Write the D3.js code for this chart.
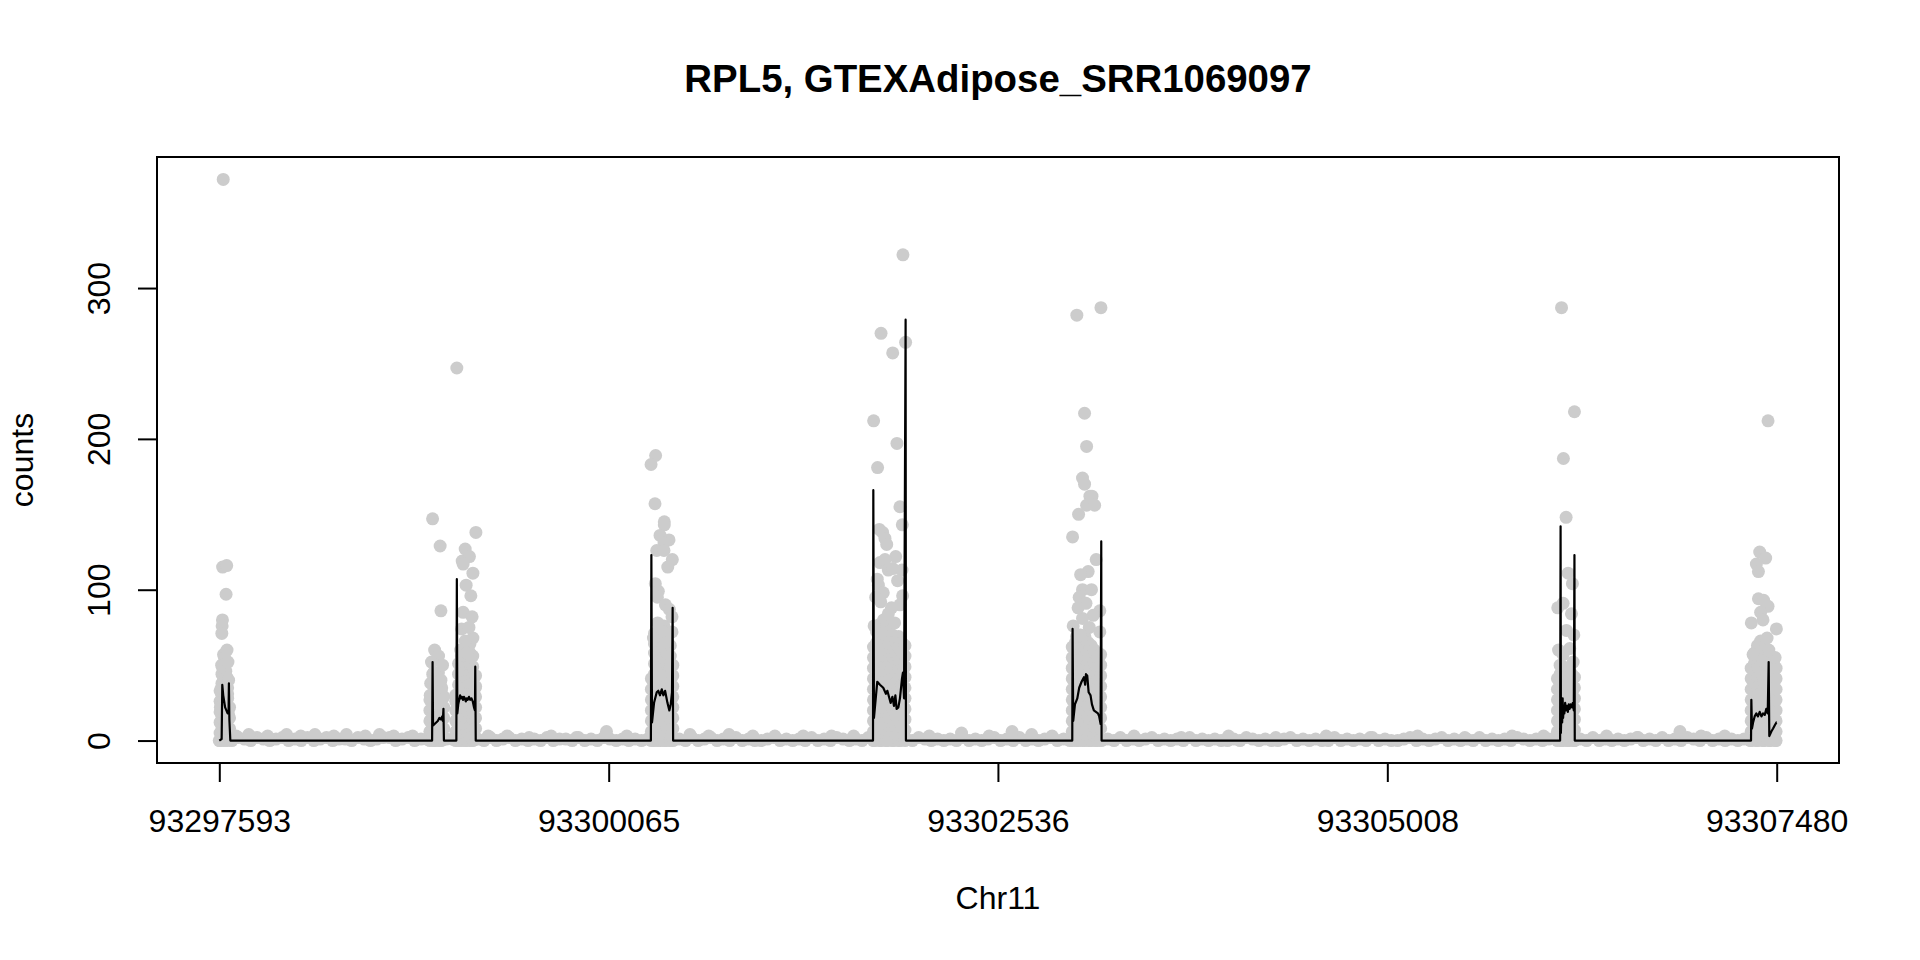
<!DOCTYPE html>
<html>
<head>
<meta charset="utf-8">
<script src="https://cdn.jsdelivr.net/npm/d3@7"></script>
<style>
  html, body { margin: 0; padding: 0; background: #ffffff; }
  svg { display: block; }
  text { font-family: "Liberation Sans", Arial, Helvetica, sans-serif; fill: #000; }
</style>
</head>
<body>
<script>
// ---------------- DATA ----------------
const chartTitle = "RPL5, GTEXAdipose_SRR1069097";
const xLabel = "Chr11";
const yLabel = "counts";
const xTickValues = [93297593, 93300065, 93302536, 93305008, 93307480];
const yTickValues = [0, 100, 200, 300];
const regionStart = 93297593;
const regionEnd = 93307480;

// background (intronic) counts, sampled every 40 bp from regionStart
const bgStep = 40;
const bgCounts = [
  0,1,0,2,1,0,2,1,0,1,
  2,0,1,0,2,0,1,2,0,1,
  1,0,2,1,0,1,2,2,0,1,
  2,0,1,1,0,0,1,1,0,0,
  0,1,0,2,0,1,2,0,1,0,
  1,0,2,0,1,1,0,2,0,1,
  0,2,1,0,1,0,1,0,1,0,
  0,0,0,1,0,2,0,1,2,0,
  1,0,2,0,1,0,0,1,2,0,
  1,0,1,0,2,0,1,0,2,1,
  0,1,0,2,0,0,0,0,0,1,
  0,2,1,0,1,0,1,0,2,0,
  1,0,1,2,0,1,0,2,0,1,
  0,1,2,0,1,0,0,0,0,0,
  0,1,0,2,0,1,0,1,2,0,
  1,0,1,0,2,0,1,0,1,0,
  0,1,0,2,1,0,1,0,0,1,
  2,0,1,0,1,0,0,2,0,1,
  0,1,0,2,0,1,0,0,1,2,
  0,1,0,1,2,0,1,0,1,0,
  2,0,1,0,1,0,2,1,0,1,
  0,1,2,0,0,0,1,0,2,0,
  1,0,1,0,1,2,0,1,0,2,
  0,1,0,2,1,0,2,0,1,0,
  1,0,1,0,0,0,0,0
];

// scattered small intronic counts above the band [position, count]
const intronBumps = [
  [93297700,3],[93297780,4],[93297900,3],[93298020,4],[93298110,3],[93298200,4],
  [93298320,3],[93298400,4],[93298520,3],[93298610,4],[93298700,3],[93298820,3],
  [93299300,3],[93299420,3],[93299560,2],[93299700,3],[93299860,2],[93300051,6],
  [93300180,3],[93300581,4],[93300700,3],[93300829,4],[93300980,3],[93301120,3],
  [93301300,3],[93301480,3],[93301620,3],[93302100,3],[93302305,5],[93302480,3],
  [93302626,6],[93302750,4],[93302880,3],[93303400,3],[93303700,2],[93304000,3],
  [93304300,2],[93304620,3],[93304900,2],[93305200,3],[93305500,2],[93305800,3],
  [93306000,3],[93306400,3],[93306600,2],[93306866,6],[93307000,3],[93307150,3]
];

// exon read counts [position, count] (scattered upper points)
const exon1Points = [
  [93297618,372],[93297614,115],[93297640,116],[93297636,97],[93297613,80],[93297611,76],
  [93297609,71],[93297620,57],[93297626,55],[93297615,48],[93297630,45],[93297640,42],
  [93297622,38],[93297606,35],[93297646,31],[93297628,28],[93297600,22],[93297650,18],
  [93297642,60],[93297608,50],[93297648,52],[93297652,40]
];
const exon2Points = [
  [93298947,147],[93298995,129],[93299000,86],[93298960,60],[93298985,56],[93298940,52],
  [93299010,50],[93298955,45],[93298975,42],[93298935,38],[93299005,35],[93298932,30],
  [93299000,40]
];
const exon3Points = [
  [93299101,247],[93299222,138],[93299154,127],[93299135,119],[93299181,122],[93299141,117],
  [93299203,111],[93299160,103],[93299190,96],[93299141,85],[93299131,74],[93299203,68],
  [93299154,66],[93299185,55],[93299125,60],[93299165,58],[93299178,75],[93299198,82],
  [93299093,30],[93299218,35]
];
const exon4Points = [
  [93300363,189],[93300334,183],[93300359,157],[93300418,145],[93300418,143],[93300391,136],
  [93300448,133],[93300416,131],[93300370,126],[93300416,126],[93300469,120],[93300440,115],
  [93300361,104],[93300380,99],[93300374,95],[93300425,90],[93300450,87],[93300467,82],
  [93300397,76],[93300416,72],[93300349,68],[93300467,72],[93300430,65]
];
const exon5Points = [
  [93301933,322],[93301794,270],[93301868,257],[93301950,264],[93301747,212],[93301895,197],
  [93301772,181],[93301914,155],[93301929,143],[93301783,140],[93301804,138],[93301819,134],
  [93301830,130],[93301887,122],[93301787,118],[93301819,120],[93301840,113],[93301868,114],
  [93301927,113],[93301899,106],[93301770,107],[93301777,103],[93301808,98],[93301931,96],
  [93301792,92],[93301914,90],[93301760,95],[93301860,88],[93301810,80],[93301840,84],
  [93301880,78],[93301750,76]
];
const exon6Points = [
  [93303037,282],[93303190,287],[93303086,217],[93303099,195],[93303073,174],[93303086,170],
  [93303120,162],[93303133,162],[93303099,156],[93303150,156],[93303048,150],[93303010,135],
  [93303109,112],[93303061,110],[93303073,100],[93303052,95],[93303095,91],[93303183,86],
  [93303141,83],[93303073,81],[93303014,76],[93303116,75],[93303183,72],[93303035,69],
  [93303060,70],[93303130,100],[93303160,120],[93303045,88]
];
const exon7Points = [
  [93306114,287],[93306196,218],[93306126,187],[93306143,148],[93306156,111],[93306183,104],
  [93306124,91],[93306177,84],[93306145,73],[93306192,70],[93306166,61],[93306124,57],
  [93306188,52],[93306090,88],[93306095,60],[93306105,50]
];
const exon8Points = [
  [93307425,212],[93307372,125],[93307410,121],[93307351,117],[93307364,112],[93307364,94],
  [93307397,93],[93307425,89],[93307378,85],[93307393,80],[93307319,78],[93307478,74],
  [93307419,68],[93307351,59],[93307330,57],[93307393,53],[93307467,49],[93307470,55],
  [93307430,60]
];

// dense lower read counts per exon: [position, [counts at that position]]
const exon1Fill = [
  [93297598,[0,5,12,19,26,33]],
  [93297610,[2,9,16,23,30,38,44]],
  [93297622,[0,6,13,20,27,34,41]],
  [93297634,[3,10,17,24,31,37,46]],
  [93297646,[0,7,14,21,28,35]],
  [93297658,[1,8,15,22]]
];
const exon2Fill = [
  [93298930,[0,6,13,20,27]],
  [93298948,[2,9,16,23,30,37,44]],
  [93298966,[0,7,14,21,28,35]],
  [93298984,[3,10,17,24,31,38,45]],
  [93299002,[0,6,13,20,27,33]],
  [93299018,[1,8,15,22,29]]
];
const exon3Fill = [
  [93299094,[0,6,13,20,26]],
  [93299112,[2,9,16,23,30,37,44,51]],
  [93299130,[0,7,14,21,28,35,42,49,56]],
  [93299148,[3,10,17,24,31,38,45,52,60]],
  [93299166,[0,6,13,20,27,34,41,48,55]],
  [93299184,[2,9,16,23,30,37,44,51,58,64]],
  [93299202,[0,7,14,21,28,35,42,49,56]],
  [93299220,[1,8,15,22,29,36,43]]
];
const exon4Fill = [
  [93300336,[0,6,13,20,27,34,41]],
  [93300356,[2,9,16,23,30,37,44,51,58,64,71]],
  [93300376,[0,7,14,21,28,35,42,49,56,63,70,78]],
  [93300396,[3,10,17,24,31,38,45,52,59,66,73]],
  [93300416,[0,6,13,20,27,34,41,48,55,62,69,76]],
  [93300436,[2,9,16,23,30,37,44,51,58,65]],
  [93300456,[0,7,14,21,28,35,42,49,56,63]],
  [93300472,[1,8,15,22,29,36,43,50]]
];
const exon5Fill = [
  [93301746,[0,6,13,20,27,34,41,48,55,62]],
  [93301766,[2,9,16,23,30,37,44,51,58,65,72]],
  [93301786,[0,7,14,21,28,35,42,49,56,63,70,77]],
  [93301806,[3,10,17,24,31,38,45,52,59,66,73]],
  [93301826,[0,6,13,20,27,34,41,48,55,62,69,76]],
  [93301846,[2,9,16,23,30,37,44,51,58,65,72]],
  [93301866,[0,7,14,21,28,35,42,49,56,63,70]],
  [93301886,[3,10,17,24,31,38,45,52,59,66]],
  [93301906,[0,6,13,20,27,34,41,48,55,62,69]],
  [93301926,[2,9,16,23,30,37,44,51,58,65]],
  [93301946,[0,7,14,21,28,35,42,49,56,63]]
];
const exon6Fill = [
  [93303008,[0,6,13,20,27,34,41,48,55,62]],
  [93303028,[2,9,16,23,30,37,44,51,58,65]],
  [93303048,[0,7,14,21,28,35,42,49,56,63,70]],
  [93303068,[3,10,17,24,31,38,45,52,59,66]],
  [93303088,[0,6,13,20,27,34,41,48,55,62,69]],
  [93303108,[2,9,16,23,30,37,44,51,58,65]],
  [93303128,[0,7,14,21,28,35,42,49,56,63]],
  [93303148,[3,10,17,24,31,38,45,52,60]],
  [93303168,[0,6,13,20,27,34,41,48,55]],
  [93303188,[1,8,15,22,29,36,43,50,57]]
];
const exon7Fill = [
  [93306088,[0,6,13,20,27,34,41]],
  [93306106,[2,9,16,23,30,37,44]],
  [93306124,[0,7,14,21,28,35,42,49]],
  [93306142,[3,10,17,24,31,38,45]],
  [93306160,[0,6,13,20,27,34,41,48]],
  [93306178,[2,9,16,23,30,37,44]],
  [93306196,[0,7,14,21,28,35,42]]
];
const exon8Fill = [
  [93307318,[0,6,13,20,27,34,41,48]],
  [93307338,[2,9,16,23,30,37,44,51,58]],
  [93307358,[0,7,14,21,28,35,42,49,56,63]],
  [93307378,[3,10,17,24,31,38,45,52,59,66]],
  [93307398,[0,6,13,20,27,34,41,48,55,62]],
  [93307418,[2,9,16,23,30,37,44,51,58]],
  [93307438,[0,7,14,21,28,35,42,49]],
  [93307458,[3,10,17,24,31,38,45,52]],
  [93307476,[0,6,13,20,27,34,41,48]]
];

// fitted line: vertex positions and values
const fitPos = [
  93297593,93297608,93297612,93297618,93297624,93297630,93297638,93297646,93297652,93297654,93297657,93297663,
  93298944,93298947,93298950,93298960,93298970,93298980,93298990,93299000,93299008,93299012,93299016,93299019,
  93299098,93299101,93299104,93299110,93299116,93299122,93299128,93299134,93299140,93299146,93299152,93299158,
  93299164,93299170,93299178,93299186,93299194,93299202,93299210,93299216,93299218,93299221,
  93300333,93300336,93300340,93300353,93300370,93300380,93300391,93300402,93300412,93300423,93300438,93300450,
  93300459,93300467,93300471,93300474,
  93301743,93301745,93301749,93301770,93301787,93301808,93301825,93301834,93301847,93301855,93301866,93301876,
  93301885,93301893,93301904,93301914,93301927,93301933,93301940,93301950,93301952,
  93303008,93303010,93303014,93303025,93303040,93303052,93303067,93303082,93303090,93303095,93303103,93303112,
  93303124,93303133,93303145,93303158,93303171,93303179,93303188,93303192,93303194,
  93306105,93306108,93306110,93306114,93306118,93306121,93306124,93306128,93306132,93306137,93306142,93306148,
  93306154,93306160,93306166,93306172,93306180,93306186,93306192,93306196,93306198,
  93307317,93307319,93307323,93307330,93307340,93307351,93307361,93307372,93307383,93307393,93307404,93307414,
  93307423,93307429,93307433,93307446,93307457,93307467,93307478,93307480
];
const fitVal = [
  0,1,37,30,26,22,20,18,20,38,14,0,
  0,52,10,11,12,13,15,14,16,13,21,0,
  0,107,18,24,27,30,28,29,27,29,28,26,
  28,27,29,27,28,26,22,20,49,0,
  0,123,12,25,32,33,30,34,30,33,25,20,
  24,32,88,0,
  0,166,15,39,37,35,31,33,28,25,29,23,
  30,21,22,28,41,45,28,279,0,
  0,74,13,24,28,35,39,42,37,44,43,32,
  30,24,20,19,18,16,11,132,0,
  0,142,5,25,12,28,15,22,18,25,20,23,
  19,24,21,24,22,25,20,123,0,
  0,27,8,12,16,18,16,19,16,18,17,21,
  18,52,3,6,8,10,12,12
];

// ---------------- DRAWING ----------------
const W = 1920, H = 960;
const plot = { left: 157, right: 1839, top: 157, bottom: 763 };
const fontStack = '"Liberation Sans", Arial, Helvetica, sans-serif';

const fillPoints = [exon1Fill, exon2Fill, exon3Fill, exon4Fill, exon5Fill, exon6Fill, exon7Fill, exon8Fill]
  .flatMap(cols => cols.flatMap(([p, counts]) => counts.map(c => [p, c])));

const allPoints = []
  .concat(bgCounts.map((c, i) => [regionStart + i * bgStep, c]))
  .concat(intronBumps, fillPoints, exon1Points, exon2Points, exon3Points, exon4Points,
          exon5Points, exon6Points, exon7Points, exon8Points);

const xSpan = regionEnd - regionStart;
const x = d3.scaleLinear()
  .domain([regionStart - 0.04 * xSpan, regionEnd + 0.04 * xSpan])
  .range([plot.left, plot.right]);

const yMin = d3.min(allPoints, d => d[1]);
const yMax = d3.max(allPoints, d => d[1]);
const ySpan = yMax - yMin;
const y = d3.scaleLinear()
  .domain([yMin - 0.04 * ySpan, yMax + 0.04 * ySpan])
  .range([plot.bottom, plot.top]);

const svg = d3.select("body").append("svg")
  .attr("width", W).attr("height", H)
  .attr("viewBox", `0 0 ${W} ${H}`);

svg.append("rect").attr("width", W).attr("height", H).attr("fill", "#fff");

svg.append("clipPath").attr("id", "plotclip")
  .append("rect")
  .attr("x", plot.left).attr("y", plot.top)
  .attr("width", plot.right - plot.left).attr("height", plot.bottom - plot.top);

const g = svg.append("g").attr("clip-path", "url(#plotclip)");

g.append("g").selectAll("circle")
  .data(allPoints)
  .join("circle")
  .attr("cx", d => x(d[0]))
  .attr("cy", d => y(d[1]))
  .attr("r", 6.5)
  .attr("fill", "#cccccc");

const fitData = fitPos.map((p, i) => [p, fitVal[i]]);
g.append("path")
  .datum(fitData)
  .attr("fill", "none")
  .attr("stroke", "#000")
  .attr("stroke-width", 2.2)
  .attr("stroke-linejoin", "round")
  .attr("d", d3.line().x(d => x(d[0])).y(d => y(d[1])));

// box
svg.append("rect")
  .attr("x", plot.left).attr("y", plot.top)
  .attr("width", plot.right - plot.left).attr("height", plot.bottom - plot.top)
  .attr("fill", "none").attr("stroke", "#000").attr("stroke-width", 2);

// x axis
const xAxis = svg.append("g")
  .attr("transform", `translate(0,${plot.bottom})`)
  .call(d3.axisBottom(x).tickValues(xTickValues).tickSize(19).tickFormat(d3.format("d")));
xAxis.select(".domain").remove();
xAxis.selectAll(".tick line").attr("stroke", "#000").attr("stroke-width", 2);
xAxis.selectAll(".tick text")
  .attr("y", 69).attr("dy", null)
  .attr("font-size", 32)
  .attr("font-family", fontStack)
  .attr("fill", "#000");

// y axis
const yAxis = svg.append("g")
  .attr("transform", `translate(${plot.left},0)`)
  .call(d3.axisLeft(y).tickValues(yTickValues).tickSize(19).tickFormat(d3.format("d")));
yAxis.select(".domain").remove();
yAxis.selectAll(".tick line").attr("stroke", "#000").attr("stroke-width", 2);
yAxis.selectAll(".tick text")
  .attr("x", null).attr("dy", null)
  .attr("transform", "translate(-47,0) rotate(-90)")
  .attr("text-anchor", "middle")
  .attr("font-size", 32)
  .attr("font-family", fontStack)
  .attr("fill", "#000");

// title & labels
const cx = (plot.left + plot.right) / 2;
const cy = (plot.top + plot.bottom) / 2;
svg.append("text")
  .attr("x", cx).attr("y", 92)
  .attr("text-anchor", "middle")
  .attr("font-size", 38.4).attr("font-weight", "bold")
  .text(chartTitle);
svg.append("text")
  .attr("x", cx).attr("y", 909)
  .attr("text-anchor", "middle")
  .attr("font-size", 32)
  .text(xLabel);
svg.append("text")
  .attr("transform", `translate(33,${cy}) rotate(-90)`)
  .attr("text-anchor", "middle")
  .attr("font-size", 32)
  .text(yLabel);
</script>
</body>
</html>
